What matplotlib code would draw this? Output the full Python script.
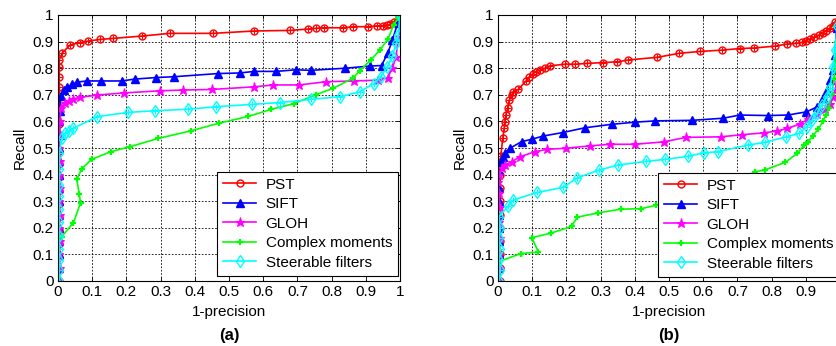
import matplotlib
matplotlib.use('Agg')
import matplotlib.pyplot as plt

plt.rcParams['font.family'] = ['Liberation Sans', 'DejaVu Sans']

labels = ['PST', 'SIFT', 'GLOH', 'Complex moments', 'Steerable filters']
ticks = [0, 0.1, 0.2, 0.3, 0.4, 0.5, 0.6, 0.7, 0.8, 0.9, 1]
tick_labels = ['0', '0.1', '0.2', '0.3', '0.4', '0.5', '0.6', '0.7', '0.8', '0.9', '1']
# the right edge of panel (b) is cut off in the original, so its "1" is not shown
tick_labels_b = ['0', '0.1', '0.2', '0.3', '0.4', '0.5', '0.6', '0.7', '0.8', '0.9', '']

# ---- panel (a) ----
pst_a_x = [0.002, 0.002, 0.003, 0.003, 0.002, 0.003, 0.002, 0.003, 0.002, 0.003,
           0.003, 0.002, 0.003, 0.003, 0.004, 0.004, 0.003, 0.004, 0.003,
           0.013, 0.035, 0.063, 0.088, 0.122, 0.161, 0.247, 0.327, 0.454, 0.574,
           0.677, 0.73, 0.754, 0.779, 0.834, 0.864, 0.905, 0.932, 0.949, 0.961,
           0.972, 0.983, 0.998]
pst_a_y = [0.0, 0.04, 0.09, 0.14, 0.19, 0.24, 0.29, 0.34, 0.39, 0.44,
           0.49, 0.54, 0.59, 0.65, 0.69, 0.728, 0.768, 0.806, 0.83,
           0.858, 0.887, 0.896, 0.902, 0.908, 0.912, 0.921, 0.931, 0.931, 0.94,
           0.942, 0.947, 0.95, 0.952, 0.952, 0.956, 0.956, 0.959, 0.96, 0.962,
           0.965, 0.975, 1.0]

sift_a_x = [0.003, 0.004, 0.003, 0.004, 0.003, 0.004, 0.003, 0.004, 0.003, 0.004,
            0.004, 0.005, 0.004, 0.005,
            0.008, 0.018, 0.027, 0.042, 0.057, 0.084, 0.125, 0.186, 0.224, 0.288,
            0.34, 0.469, 0.531, 0.574, 0.638, 0.695, 0.74, 0.84, 0.911, 0.946,
            0.964, 0.978, 0.993, 1.0]
sift_a_y = [0.0, 0.05, 0.1, 0.15, 0.2, 0.25, 0.3, 0.35, 0.4, 0.45,
            0.5, 0.55, 0.6, 0.64,
            0.695, 0.717, 0.728, 0.74, 0.748, 0.752, 0.752, 0.752, 0.759, 0.765,
            0.768, 0.78, 0.782, 0.788, 0.788, 0.794, 0.792, 0.8, 0.808, 0.81,
            0.856, 0.906, 0.969, 1.0]

gloh_a_x = [0.004, 0.005, 0.004, 0.005, 0.004, 0.005, 0.004, 0.005, 0.004, 0.005,
            0.004, 0.005,
            0.006, 0.008, 0.02, 0.033, 0.045, 0.064, 0.113, 0.192, 0.298, 0.366,
            0.449, 0.574, 0.63, 0.705, 0.783, 0.866, 0.935, 0.964, 0.978, 0.988,
            0.996, 1.0]
gloh_a_y = [0.0, 0.05, 0.1, 0.15, 0.2, 0.25, 0.3, 0.35, 0.4, 0.45,
            0.5, 0.55,
            0.6, 0.65, 0.668, 0.677, 0.684, 0.69, 0.699, 0.707, 0.715, 0.718,
            0.72, 0.73, 0.737, 0.737, 0.749, 0.752, 0.755, 0.765, 0.8, 0.843,
            0.918, 1.0]

cm_a_x = [0.0, 0.002, 0.011, 0.045, 0.066, 0.062, 0.055, 0.069, 0.098, 0.154,
          0.211, 0.293, 0.39, 0.47, 0.557, 0.623, 0.69, 0.753, 0.804, 0.862,
          0.882, 0.914, 0.941, 0.965, 0.981, 0.993, 1.0]
cm_a_y = [0.0, 0.16, 0.167, 0.219, 0.294, 0.326, 0.382, 0.421, 0.457, 0.486,
          0.505, 0.536, 0.565, 0.593, 0.619, 0.645, 0.667, 0.7, 0.724, 0.762,
          0.79, 0.83, 0.868, 0.91, 0.962, 0.987, 1.0]

sf_a_x = [0.004, 0.003, 0.004, 0.003, 0.004, 0.003, 0.004, 0.003, 0.004, 0.003,
          0.004,
          0.011, 0.02, 0.033, 0.045, 0.115, 0.206, 0.284, 0.381, 0.462, 0.567,
          0.65, 0.741, 0.825, 0.882, 0.923, 0.943, 0.962, 0.978, 0.989, 0.995,
          1.0]
sf_a_y = [0.0, 0.04, 0.08, 0.12, 0.17, 0.22, 0.27, 0.32, 0.36, 0.42,
          0.48,
          0.536, 0.555, 0.565, 0.574, 0.618, 0.634, 0.64, 0.646, 0.655, 0.664,
          0.671, 0.683, 0.693, 0.711, 0.742, 0.767, 0.803, 0.846, 0.894, 0.925,
          1.0]

# ---- panel (b) ----
pst_b_x = [0.005, 0.006, 0.005, 0.006, 0.005, 0.006, 0.005, 0.006, 0.007, 0.008,
           0.014, 0.018, 0.02, 0.023, 0.028, 0.033, 0.04, 0.045, 0.059, 0.082,
           0.092, 0.101, 0.111, 0.123, 0.137, 0.152, 0.196, 0.225, 0.261, 0.306,
           0.349, 0.381, 0.466, 0.53, 0.591, 0.656, 0.708, 0.749, 0.81, 0.846,
           0.871, 0.888, 0.9, 0.913, 0.925, 0.939, 0.95, 0.96, 0.97, 0.979,
           0.986, 1.0]
pst_b_y = [0.0, 0.05, 0.1, 0.15, 0.2, 0.25, 0.3, 0.35, 0.4, 0.47,
           0.536, 0.574, 0.599, 0.624, 0.649, 0.68, 0.699, 0.712, 0.72, 0.752,
           0.768, 0.778, 0.787, 0.793, 0.8, 0.809, 0.815, 0.815, 0.818, 0.821,
           0.824, 0.831, 0.841, 0.856, 0.863, 0.868, 0.874, 0.876, 0.883, 0.891,
           0.893, 0.897, 0.904, 0.91, 0.917, 0.925, 0.933, 0.94, 0.95, 0.96,
           0.975, 1.0]

sift_b_x = [0.003, 0.004, 0.003, 0.004, 0.003, 0.004, 0.003, 0.004,
            0.004, 0.008, 0.014, 0.02, 0.035, 0.069, 0.099, 0.132, 0.189, 0.254,
            0.332, 0.4, 0.46, 0.567, 0.659, 0.707, 0.79, 0.848, 0.902, 0.934,
            0.95, 0.961, 0.971, 0.979, 0.985, 0.99]
sift_b_y = [0.0, 0.05, 0.1, 0.15, 0.2, 0.25, 0.3, 0.35,
            0.415, 0.448, 0.465, 0.48, 0.499, 0.524, 0.533, 0.545, 0.558, 0.576,
            0.589, 0.597, 0.602, 0.604, 0.612, 0.624, 0.622, 0.624, 0.636, 0.655,
            0.687, 0.718, 0.756, 0.793, 0.85, 0.95]

gloh_b_x = [0.004, 0.005, 0.004, 0.005, 0.004, 0.005, 0.004,
            0.001, 0.004, 0.011, 0.02, 0.04, 0.064, 0.108, 0.142, 0.199, 0.269,
            0.327, 0.4, 0.484, 0.55, 0.651, 0.714, 0.778, 0.817, 0.846, 0.883,
            0.907, 0.932, 0.955, 0.97, 0.98, 0.987, 0.992]
gloh_b_y = [0.0, 0.05, 0.1, 0.16, 0.22, 0.28, 0.33,
            0.373, 0.398, 0.424, 0.436, 0.448, 0.467, 0.486, 0.495, 0.499, 0.508,
            0.514, 0.514, 0.523, 0.54, 0.542, 0.55, 0.557, 0.564, 0.574, 0.59,
            0.609, 0.627, 0.646, 0.665, 0.69, 0.718, 0.8]

cm_b_x = [0.001, 0.066, 0.118, 0.099, 0.155, 0.215, 0.232, 0.293, 0.359, 0.419,
          0.463, 0.56, 0.66, 0.751, 0.781, 0.84, 0.875, 0.895, 0.907, 0.92,
          0.936, 0.95, 0.959, 0.967, 0.976, 0.983, 0.99]
cm_b_y = [0.072, 0.103, 0.109, 0.163, 0.18, 0.205, 0.24, 0.256, 0.27, 0.272,
          0.285, 0.32, 0.36, 0.41, 0.418, 0.446, 0.48, 0.51, 0.524, 0.545,
          0.57, 0.6, 0.625, 0.652, 0.702, 0.76, 0.9]

sf_b_x = [0.004, 0.005, 0.004, 0.005, 0.004, 0.005,
          0.003, 0.03, 0.045, 0.115, 0.191, 0.232, 0.296, 0.352, 0.434, 0.488,
          0.556, 0.602, 0.642, 0.731, 0.78, 0.843, 0.881, 0.903, 0.918, 0.933,
          0.947, 0.961, 0.971, 0.98, 0.985, 0.992]
sf_b_y = [0.0, 0.04, 0.08, 0.12, 0.16, 0.2,
          0.242, 0.282, 0.305, 0.333, 0.352, 0.388, 0.417, 0.436, 0.45, 0.457,
          0.469, 0.482, 0.486, 0.511, 0.521, 0.542, 0.555, 0.58, 0.605, 0.63,
          0.662, 0.693, 0.724, 0.806, 0.868, 0.96]

styles = [
    dict(color=(1, 0, 0), marker='o', ms=5, mfc='none', mew=1.0),
    dict(color=(0, 0, 1), marker='^', ms=5.5, mew=1.0),
    dict(color=(1, 0, 1), marker='*', ms=6.5, mew=0.8),
    dict(color=(0, 1, 0), marker='+', ms=5, mew=1.6),
    dict(color=(0, 1, 1), marker='d', ms=6, mfc='none', mew=1.0),
]
crossed = [True, False, False, False, True]


def panel(ax, series, legend_xy, name, xlabels):
    for (xs, ys), lab, st, cr in zip(series, labels, styles, crossed):
        ax.plot(xs, ys, lw=1.2, label=lab, **st)
        if cr:
            ax.plot(xs, ys, ls='none', marker='+', ms=st['ms'] - 1,
                    mew=0.8, color=st['color'])
    ax.set_xlim(0, 1)
    ax.set_ylim(0, 1)
    ax.set_xticks(ticks)
    ax.set_xticklabels(xlabels)
    ax.set_yticks(ticks)
    ax.set_yticklabels(tick_labels)
    ax.grid(True, color='k', ls=(0, (2, 2)), lw=0.6)
    ax.tick_params(direction='in', top=True, right=True, labelsize=11,
                   length=3, pad=3, width=0.6)
    for s in ax.spines.values():
        s.set_linewidth(0.8)
    ax.set_xlabel('1-precision', fontsize=11, labelpad=4)
    ax.set_ylabel('Recall', fontsize=11, labelpad=4)
    leg = ax.legend(loc='upper left', bbox_to_anchor=legend_xy, borderaxespad=0,
                    fontsize=11, fancybox=False, edgecolor='k', framealpha=1,
                    handlelength=2.2, handletextpad=0.6, labelspacing=0.36,
                    borderpad=0.38)
    leg.get_frame().set_linewidth(0.8)
    leg.set_zorder(5)
    ax.text(0.5, -0.205, name, transform=ax.transAxes, ha='center', va='center',
            fontsize=12, fontweight='bold')


fig = plt.figure(figsize=(8.36, 3.46), dpi=100)
ax_a = fig.add_axes([58 / 836, 65 / 346, 342 / 836, 266 / 346])
ax_b = fig.add_axes([498 / 836, 65 / 346, 342 / 836, 266 / 346])

panel(ax_a, [(pst_a_x, pst_a_y), (sift_a_x, sift_a_y), (gloh_a_x, gloh_a_y),
             (cm_a_x, cm_a_y), (sf_a_x, sf_a_y)], (0.465, 0.41), '(a)', tick_labels)
panel(ax_b, [(pst_b_x, pst_b_y), (sift_b_x, sift_b_y), (gloh_b_x, gloh_b_y),
             (cm_b_x, cm_b_y), (sf_b_x, sf_b_y)], (0.468, 0.406), '(b)', tick_labels_b)

fig.savefig('out.png', dpi=100)
